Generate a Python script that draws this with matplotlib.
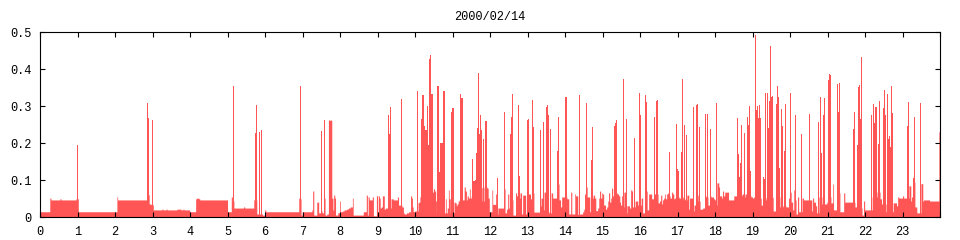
import matplotlib
matplotlib.use("Agg")
import matplotlib.pyplot as plt

TITLE = "2000/02/14"
BAR_COLOR = "#ff5555"

# background level: step changes (hour where the level starts, value)
floor_hours = [
    0.00, 0.26, 0.29, 0.53, 0.56, 0.96, 1.02, 2.05, 2.07, 2.85, 2.91, 2.96,
    3.02, 3.25, 3.28, 3.36, 3.39, 3.65, 3.76, 3.81, 3.84, 3.99, 4.15, 4.18,
    4.23, 4.26, 5.00, 5.10, 5.13, 5.17, 5.43, 5.46, 5.70, 5.78, 5.87, 5.93,
    5.99, 6.02, 6.90, 6.93, 6.96, 6.99, 7.25, 7.27, 7.30, 7.38, 7.43, 7.49,
    7.52, 7.56, 7.60, 7.65, 7.69, 7.78, 7.81, 7.83, 7.86, 7.88, 7.94, 7.99,
    8.01, 8.06, 8.11, 8.17, 8.22, 8.27, 8.33, 8.35, 8.62, 8.70, 8.73, 8.75,
    8.78, 8.86, 8.89, 8.97, 9.00, 9.02, 9.05, 9.07, 9.10, 9.13, 9.18, 9.21,
    9.36, 9.42, 9.53, 9.56, 9.65, 9.69, 9.71, 9.77, 9.83, 9.88, 9.91, 9.93,
    9.95, 9.99, 10.08, 10.10, 10.13, 10.30, 10.46, 10.49, 10.52, 10.55, 10.57,
    10.81, 10.83, 10.86, 10.89, 10.91, 10.94, 11.04, 11.07, 11.10, 11.12,
    11.15, 11.18, 11.28, 11.31, 11.34, 11.37, 11.39, 11.42, 11.45, 11.47,
    11.50, 11.55, 11.79, 11.84, 11.92, 11.95, 11.98, 12.05, 12.07, 12.15,
    12.18, 12.21, 12.36, 12.40, 12.44, 12.47, 12.50, 12.52, 12.61, 12.68,
    12.71, 12.74, 12.80, 12.84, 12.87, 12.95, 12.98, 13.04, 13.08, 13.11,
    13.17, 13.32, 13.36, 13.40, 13.44, 13.48, 13.57, 13.63, 13.67, 13.78,
    13.84, 13.88, 13.91, 14.05, 14.10, 14.15, 14.18, 14.26, 14.28, 14.34,
    14.40, 14.47, 14.50, 14.52, 14.55, 14.59, 14.66, 14.68, 14.75, 14.79,
    14.82, 14.87, 14.90, 14.92, 14.95, 14.98, 15.00, 15.03, 15.08, 15.11,
    15.14, 15.16, 15.19, 15.22, 15.24, 15.27, 15.30, 15.39, 15.43, 15.46,
    15.48, 15.51, 15.54, 15.57, 15.62, 15.65, 15.72, 15.75, 15.78, 15.80,
    15.87, 15.94, 16.03, 16.07, 16.12, 16.19, 16.23, 16.31, 16.36, 16.40,
    16.48, 16.52, 16.55, 16.58, 16.60, 16.63, 16.66, 16.68, 16.71, 16.74,
    16.76, 16.80, 16.84, 16.87, 16.90, 16.92, 16.95, 17.04, 17.08, 17.15,
    17.20, 17.25, 17.30, 17.32, 17.40, 17.44, 17.48, 17.55, 17.60, 17.67,
    17.72, 17.76, 17.81, 17.86, 17.89, 17.96, 17.99, 18.02, 18.05, 18.10,
    18.12, 18.18, 18.20, 18.23, 18.26, 18.36, 18.50, 18.72, 18.76, 18.80,
    18.84, 18.96, 19.00, 19.03, 19.06, 19.23, 19.27, 19.36, 19.55, 19.62,
    19.73, 19.81, 19.89, 19.96, 19.99, 20.03, 20.07, 20.10, 20.12, 20.16,
    20.20, 20.23, 20.32, 20.36, 20.53, 20.58, 20.60, 20.63, 20.68, 20.71,
    20.77, 20.85, 20.93, 20.98, 21.00, 21.09, 21.14, 21.16, 21.24, 21.33,
    21.43, 21.46, 21.73, 21.78, 21.92, 21.96, 21.99, 22.19, 22.32, 22.40,
    22.44, 22.56, 22.75, 22.84, 22.87, 22.90, 23.00, 23.03, 23.17, 23.22,
    23.24, 23.27, 23.33, 23.38, 23.49, 23.54, 23.56, 23.72, 23.97,
]
floor_vals = [
    0.015, 0.052, 0.047, 0.050, 0.047, 0.050, 0.015, 0.055, 0.047, 0.061, 0.036, 0.034,
    0.020, 0.022, 0.020, 0.022, 0.020, 0.022, 0.020, 0.022, 0.020, 0.015, 0.050, 0.052,
    0.050, 0.047, 0.015, 0.055, 0.044, 0.025, 0.028, 0.025, 0.047, 0.009, 0.009, 0.006,
    0.020, 0.015, 0.052, 0.050, 0.006, 0.015, 0.020, 0.071, 0.006, 0.041, 0.012, 0.017,
    0.012, 0.052, 0.006, 0.009, 0.263, 0.052, 0.020, 0.060, 0.052, 0.006, 0.012, 0.044,
    0.015, 0.017, 0.020, 0.022, 0.025, 0.028, 0.052, 0.006, 0.015, 0.060, 0.006, 0.055,
    0.047, 0.055, 0.004, 0.058, 0.015, 0.058, 0.052, 0.025, 0.028, 0.058, 0.022, 0.025,
    0.050, 0.047, 0.055, 0.033, 0.028, 0.012, 0.009, 0.012, 0.015, 0.058, 0.052, 0.028,
    0.015, 0.017, 0.039, 0.041, 0.055, 0.066, 0.068, 0.077, 0.071, 0.044, 0.012,
    0.050, 0.012, 0.025, 0.074, 0.050, 0.012, 0.041, 0.039, 0.031, 0.036,
    0.044, 0.047, 0.047, 0.082, 0.071, 0.047, 0.058, 0.052, 0.077, 0.052,
    0.058, 0.080, 0.044, 0.082, 0.079, 0.052, 0.015, 0.074, 0.035, 0.063,
    0.009, 0.025, 0.077, 0.012, 0.022, 0.063, 0.025, 0.047, 0.006, 0.066,
    0.058, 0.052, 0.066, 0.009, 0.060, 0.009, 0.063, 0.063, 0.050, 0.066,
    0.014, 0.031, 0.052, 0.020, 0.068, 0.015, 0.012, 0.066, 0.052, 0.090,
    0.047, 0.028, 0.055, 0.050, 0.009, 0.068, 0.009, 0.063, 0.058, 0.008,
    0.009, 0.015, 0.022, 0.063, 0.082, 0.055, 0.015, 0.052, 0.060, 0.052,
    0.018, 0.025, 0.052, 0.071, 0.052, 0.066, 0.063, 0.033, 0.022, 0.028,
    0.044, 0.066, 0.041, 0.052, 0.079, 0.058, 0.066, 0.063, 0.058, 0.041,
    0.033, 0.058, 0.028, 0.068, 0.012, 0.031, 0.025, 0.074, 0.071, 0.028,
    0.044, 0.033, 0.052, 0.012, 0.071, 0.020, 0.063, 0.050, 0.063, 0.063,
    0.039, 0.044, 0.060, 0.036, 0.047, 0.052, 0.063, 0.050, 0.063, 0.066,
    0.058, 0.052, 0.068, 0.063, 0.050, 0.052, 0.055, 0.052, 0.055, 0.050,
    0.047, 0.060, 0.022, 0.052, 0.017, 0.033, 0.060, 0.044, 0.022, 0.025,
    0.058, 0.055, 0.033, 0.058, 0.055, 0.050, 0.047, 0.033, 0.093, 0.082,
    0.058, 0.052, 0.071, 0.058, 0.068, 0.047, 0.058, 0.063, 0.055, 0.063,
    0.058, 0.055, 0.052, 0.055, 0.052, 0.033, 0.047, 0.054, 0.017, 0.055,
    0.028, 0.031, 0.028, 0.052, 0.068, 0.041, 0.020, 0.074, 0.047, 0.009,
    0.055, 0.015, 0.052, 0.047, 0.047, 0.017, 0.052, 0.041, 0.031, 0.012,
    0.055, 0.036, 0.036, 0.041, 0.055, 0.039, 0.090, 0.020, 0.066, 0.015,
    0.066, 0.041, 0.028, 0.025, 0.006, 0.044, 0.020, 0.055, 0.068, 0.050,
    0.036, 0.015, 0.039, 0.031, 0.055, 0.052, 0.058, 0.052, 0.085, 0.044,
    0.055, 0.095, 0.028, 0.012, 0.091, 0.044, 0.047, 0.044, 0.231,
]

# single-sample peaks (hour, value)
spike_hours = [
    1.00, 2.87, 2.90, 3.00, 5.16, 5.74, 5.77, 5.86, 5.91, 6.95, 7.51, 7.59,
    9.30, 9.33, 9.35, 9.645, 10.07, 10.18, 10.21, 10.23, 10.26, 10.29, 10.34,
    10.37, 10.39, 10.42, 10.45, 10.61, 10.63, 10.66, 10.69, 10.71, 10.74,
    10.77, 10.79, 10.98, 11.01, 11.03, 11.22, 11.25, 11.27, 11.54, 11.57,
    11.62, 11.65, 11.67, 11.70, 11.73, 11.75, 11.78, 11.83, 11.89, 11.91,
    12.20, 12.39, 12.55, 12.58, 12.60, 12.76, 12.79, 13.00, 13.03, 13.14,
    13.16, 13.35, 13.43, 13.51, 13.54, 13.56, 13.62, 13.80, 13.83, 14.02,
    14.04, 14.39, 14.58, 14.71, 14.74, 15.32, 15.35, 15.38, 15.56, 15.64,
    15.86, 15.99, 16.02, 16.15, 16.18, 16.39, 16.44, 16.47, 16.79, 16.98,
    17.00, 17.03, 17.11, 17.14, 17.19, 17.24, 17.43, 17.51, 17.54, 17.59,
    17.75, 17.80, 17.88, 18.04, 18.60, 18.63, 18.66, 18.68, 18.71, 18.79,
    18.87, 18.90, 18.92, 18.95, 19.08, 19.11, 19.14, 19.16, 19.19, 19.22,
    19.30, 19.32, 19.35, 19.40, 19.43, 19.46, 19.48, 19.51, 19.54, 19.64,
    19.67, 19.70, 19.72, 19.78, 19.80, 19.86, 19.88, 20.02, 20.15, 20.31,
    20.52, 20.76, 20.82, 20.84, 20.90, 20.92, 21.03, 21.06, 21.08, 21.27,
    21.30, 21.32, 21.70, 21.72, 21.80, 21.83, 21.86, 21.88, 21.91, 22.18,
    22.23, 22.26, 22.28, 22.31, 22.36, 22.39, 22.50, 22.52, 22.55, 22.60,
    22.63, 22.66, 22.68, 22.71, 22.74, 23.14, 23.16, 23.30, 23.32, 23.48,
]
spike_vals = [
    0.195, 0.309, 0.268, 0.263, 0.355, 0.228, 0.304, 0.230, 0.236, 0.355, 0.233, 0.263,
    0.277, 0.225, 0.298, 0.320, 0.341, 0.266, 0.331, 0.258, 0.247, 0.236, 0.301,
    0.195, 0.428, 0.439, 0.333, 0.355, 0.295, 0.123, 0.200, 0.200, 0.200,
    0.341, 0.285, 0.285, 0.295, 0.241, 0.333, 0.323, 0.241, 0.158, 0.098,
    0.101, 0.174, 0.241, 0.390, 0.225, 0.277, 0.236, 0.212, 0.260, 0.214,
    0.106, 0.285, 0.225, 0.271, 0.333, 0.304, 0.112, 0.263, 0.266, 0.317,
    0.244, 0.236, 0.258, 0.298, 0.304, 0.277, 0.239, 0.179, 0.271, 0.325,
    0.325, 0.331, 0.309, 0.155, 0.244, 0.247, 0.255, 0.263, 0.374, 0.266,
    0.214, 0.336, 0.277, 0.331, 0.312, 0.271, 0.314, 0.317, 0.177, 0.252,
    0.131, 0.125, 0.177, 0.374, 0.250, 0.223, 0.298, 0.304, 0.306, 0.244,
    0.279, 0.279, 0.239, 0.309, 0.268, 0.171, 0.109, 0.147, 0.250, 0.228,
    0.271, 0.250, 0.301, 0.125, 0.493, 0.290, 0.301, 0.268, 0.304, 0.268,
    0.109, 0.104, 0.336, 0.336, 0.241, 0.314, 0.463, 0.325, 0.328, 0.306,
    0.355, 0.325, 0.133, 0.293, 0.247, 0.179, 0.306, 0.336, 0.277, 0.225,
    0.279, 0.258, 0.325, 0.174, 0.277, 0.323, 0.371, 0.387, 0.385, 0.360,
    0.285, 0.363, 0.239, 0.285, 0.195, 0.352, 0.358, 0.266, 0.433, 0.277,
    0.306, 0.255, 0.298, 0.298, 0.198, 0.314, 0.295, 0.344, 0.277, 0.333,
    0.212, 0.220, 0.190, 0.355, 0.282, 0.247, 0.312, 0.106, 0.271, 0.309,
]

x_ticks = list(range(25))
x_labels = [str(h) for h in range(24)] + [""]
y_ticks = [0, 0.1, 0.2, 0.3, 0.4, 0.5]
y_labels = ["0", "0.1", "0.2", "0.3", "0.4", "0.5"]

plt.rcParams["font.family"] = ["Liberation Mono", "DejaVu Sans Mono"]
plt.rcParams["font.size"] = 8.6

fig = plt.figure(figsize=(9.6, 2.4), dpi=100)
ax = fig.add_axes([0.0417, 0.0946, 0.9375, 0.770])

ax.fill_between(floor_hours + [24.0], floor_vals + [floor_vals[-1]],
                step="post", color=BAR_COLOR, linewidth=0, antialiased=False)
# one sample is a bit over one pixel wide at this size
ax.bar(spike_hours, spike_vals, width=1.2 / 37.5, color=BAR_COLOR,
       linewidth=0, antialiased=False)

ax.set_xlim(0, 24)
ax.set_ylim(0, 0.5)
ax.set_xticks(x_ticks)
ax.set_xticklabels(x_labels)
ax.set_yticks(y_ticks)
ax.set_yticklabels(y_labels)
ax.tick_params(direction="in", length=3.6, width=0.8, top=True, right=True,
               labelsize=8.6, pad=6)
for side in ax.spines.values():
    side.set_linewidth(0.8)

ax.set_title(TITLE, fontsize=8.6, pad=9)

fig.savefig("out.png", dpi=100)
